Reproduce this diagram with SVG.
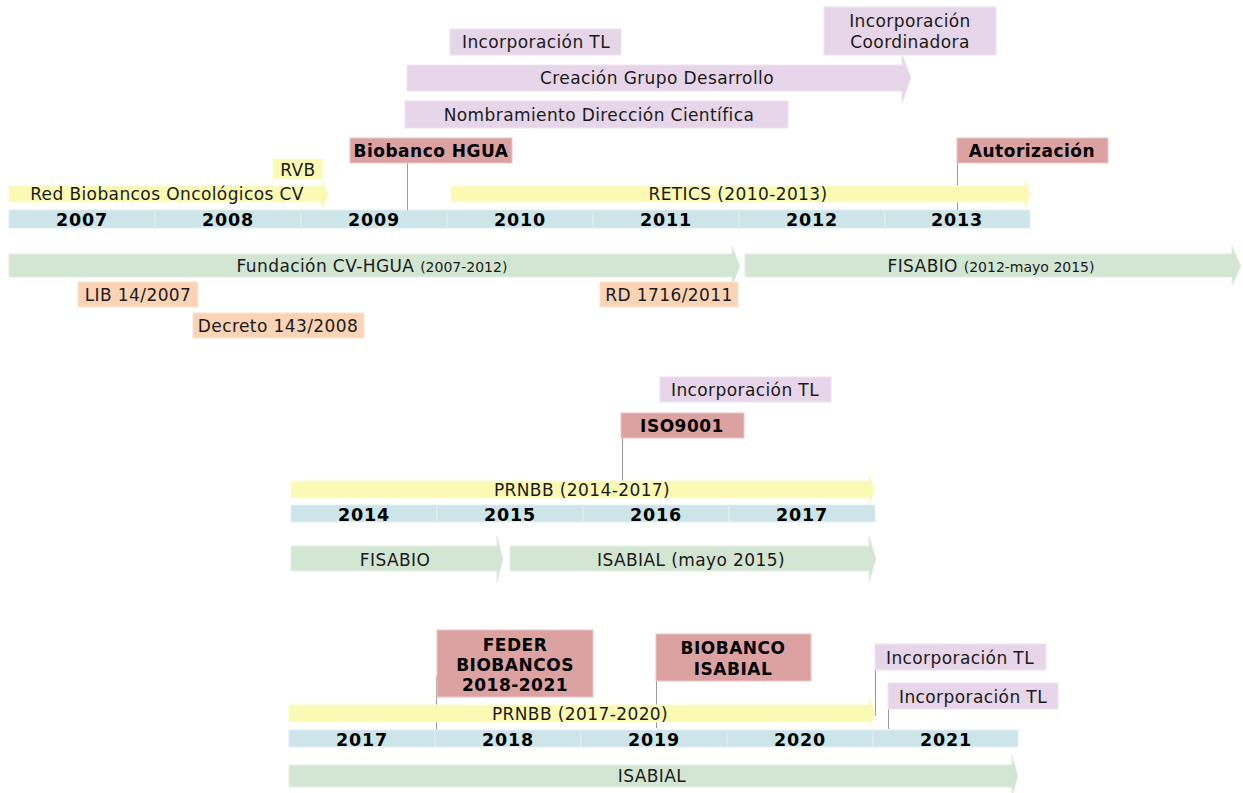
<svg xmlns="http://www.w3.org/2000/svg" width="1243" height="793" viewBox="0 0 1243 793">
<style>
text{font-family:"DejaVu Sans","Verdana",sans-serif;fill:#1a1a1a;text-anchor:middle}
.t{font-size:17px;letter-spacing:0.4px}
.s{font-size:14px;letter-spacing:0}
.b{font-size:17px;font-weight:bold;letter-spacing:0.5px;fill:#000}
.y{font-size:17.5px;font-weight:bold;letter-spacing:0.8px;fill:#000}
.pur{fill:#e7d6e9;stroke:#efe4f0;stroke-width:1}
.red{fill:#dca2a2;stroke:#ecc4c4;stroke-width:1}
.yel{fill:#fafab4;stroke:#fcfcd2;stroke-width:1}
.ora{fill:#fbd3b5;stroke:#fde4d0;stroke-width:1}
.grn{fill:#d3e6d3;stroke:#e4efe4;stroke-width:1}
.cell{fill:#cde5e8;stroke:#dff0f2;stroke-width:1}
.con{stroke:#9a9a9a;stroke-width:1;fill:none}
</style>
<rect width="1243" height="793" fill="#fff"/>

<!-- ===== Section 1 ===== -->
<g id="years-2007-2013">
<rect class="cell" x="9" y="210" width="146" height="18"/>
<rect class="cell" x="155" y="210" width="146" height="18"/>
<rect class="cell" x="301" y="210" width="146" height="18"/>
<rect class="cell" x="447" y="210" width="146" height="18"/>
<rect class="cell" x="593" y="210" width="146" height="18"/>
<rect class="cell" x="739" y="210" width="146" height="18"/>
<rect class="cell" x="885" y="210" width="145" height="18"/>
<text class="y" x="82" y="226">2007</text>
<text class="y" x="228" y="226">2008</text>
<text class="y" x="374" y="226">2009</text>
<text class="y" x="520" y="226">2010</text>
<text class="y" x="666" y="226">2011</text>
<text class="y" x="812" y="226">2012</text>
<text class="y" x="957" y="226">2013</text>
</g>

<g id="connectors">
<line class="con" x1="407.5" y1="163" x2="407.5" y2="210"/>
<line class="con" x1="957.5" y1="155" x2="957.5" y2="210"/>
<line class="con" x1="622.5" y1="438" x2="622.5" y2="481"/>
<line class="con" x1="436.5" y1="676" x2="436.5" y2="730"/>
<line class="con" x1="656.5" y1="676" x2="656.5" y2="728"/>
<line class="con" x1="875.5" y1="660" x2="875.5" y2="716"/>
<line class="con" x1="888.5" y1="700" x2="888.5" y2="729"/>
</g>

<g id="red-biobancos">
<path class="yel" d="M9,186 H322 V180 L328,194 L322,210 V202 H9 Z"/>
<text class="t" x="167" y="200">Red Biobancos Oncológicos CV</text>
</g>
<g id="rvb">
<rect class="yel" x="273" y="159" width="50" height="20"/>
<text class="t" x="298" y="176">RVB</text>
</g>
<g id="biobanco-hgua">
<rect class="red" x="350" y="138" width="162" height="25"/>
<text class="b" x="431" y="157">Biobanco HGUA</text>
</g>
<g id="retics">
<path class="yel" d="M451,186 H1025 V178 L1030,194 L1025,210 V202 H451 Z"/>
<text class="t" x="738" y="200">RETICS (2010-2013)</text>
</g>
<g id="autorizacion">
<rect class="red" x="957" y="138" width="151" height="25"/>
<text class="b" x="1032" y="157">Autorización</text>
</g>
<g id="incorporacion-tl-1">
<rect class="pur" x="450" y="29" width="171" height="26"/>
<text class="t" x="536" y="48">Incorporación TL</text>
</g>
<g id="creacion-grupo">
<path class="pur" d="M407,65 H902 V54 L911,78 L902,103 V91 H407 Z"/>
<text class="t" x="657" y="84">Creación Grupo Desarrollo</text>
</g>
<g id="nombramiento">
<rect class="pur" x="405" y="101" width="383" height="27"/>
<text class="t" x="599" y="121">Nombramiento Dirección Científica</text>
</g>
<g id="incorporacion-coordinadora">
<rect class="pur" x="824" y="7" width="172" height="48"/>
<text class="t" x="910" y="27">Incorporación</text>
<text class="t" x="910" y="48">Coordinadora</text>
</g>
<g id="fundacion">
<path class="grn" d="M9,254 H732 V246 L740,266 L732,286 V277 H9 Z"/>
<text class="t" x="372" y="272">Fundación CV-HGUA <tspan class="s">(2007-2012)</tspan></text>
</g>
<g id="fisabio-1">
<path class="grn" d="M745,254 H1232 V246 L1241,266 L1232,286 V277 H745 Z"/>
<text class="t" x="991" y="272">FISABIO <tspan class="s">(2012-mayo 2015)</tspan></text>
</g>
<g id="lib">
<rect class="ora" x="78" y="282" width="120" height="25"/>
<text class="t" x="138" y="301">LIB 14/2007</text>
</g>
<g id="decreto">
<rect class="ora" x="193" y="313" width="171" height="25"/>
<text class="t" x="278" y="332">Decreto 143/2008</text>
</g>
<g id="rd">
<rect class="ora" x="600" y="282" width="138" height="25"/>
<text class="t" x="669" y="301">RD 1716/2011</text>
</g>

<!-- ===== Section 2 ===== -->
<g id="years-2014-2017">
<rect class="cell" x="291" y="505" width="146" height="17"/>
<rect class="cell" x="437" y="505" width="146" height="17"/>
<rect class="cell" x="583" y="505" width="146" height="17"/>
<rect class="cell" x="729" y="505" width="146" height="17"/>
<text class="y" x="364" y="521">2014</text>
<text class="y" x="510" y="521">2015</text>
<text class="y" x="656" y="521">2016</text>
<text class="y" x="802" y="521">2017</text>
</g>
<g id="incorporacion-tl-2">
<rect class="pur" x="660" y="377" width="171" height="25"/>
<text class="t" x="745" y="396">Incorporación TL</text>
</g>
<g id="iso9001">
<rect class="red" x="621" y="413" width="123" height="25"/>
<text class="b" x="682" y="432">ISO9001</text>
</g>
<g id="prnbb-2014">
<path class="yel" d="M291,481 H869 V474 L875,490 L869,505 V498 H291 Z"/>
<text class="t" x="582" y="496">PRNBB (2014-2017)</text>
</g>
<g id="fisabio-2">
<path class="grn" d="M291,546 H497 V536 L503,559 L497,582 V571 H291 Z"/>
<text class="t" x="395" y="566">FISABIO</text>
</g>
<g id="isabial-2015">
<path class="grn" d="M510,546 H869 V536 L876,559 L869,582 V571 H510 Z"/>
<text class="t" x="691" y="566">ISABIAL (mayo 2015)</text>
</g>

<!-- ===== Section 3 ===== -->
<g id="years-2017-2021">
<rect class="cell" x="289" y="730" width="146" height="17"/>
<rect class="cell" x="435" y="730" width="146" height="17"/>
<rect class="cell" x="581" y="730" width="146" height="17"/>
<rect class="cell" x="727" y="730" width="146" height="17"/>
<rect class="cell" x="873" y="730" width="145" height="17"/>
<text class="y" x="362" y="746">2017</text>
<text class="y" x="508" y="746">2018</text>
<text class="y" x="654" y="746">2019</text>
<text class="y" x="800" y="746">2020</text>
<text class="y" x="946" y="746">2021</text>
</g>
<g id="feder">
<rect class="red" x="437" y="630" width="156" height="67"/>
<text class="b" x="515" y="651">FEDER</text>
<text class="b" x="515" y="671">BIOBANCOS</text>
<text class="b" x="515" y="691">2018-2021</text>
</g>
<g id="biobanco-isabial">
<rect class="red" x="656" y="634" width="155" height="47"/>
<text class="b" x="733" y="654">BIOBANCO</text>
<text class="b" x="733" y="675">ISABIAL</text>
</g>
<g id="prnbb-2017">
<path class="yel" d="M289,705 H869 V697 L875,713 L869,729 V722 H289 Z"/>
<text class="t" x="580" y="720">PRNBB (2017-2020)</text>
</g>
<g id="incorporacion-tl-3">
<rect class="pur" x="875" y="644" width="171" height="26"/>
<text class="t" x="960" y="664">Incorporación TL</text>
</g>
<g id="incorporacion-tl-4">
<rect class="pur" x="888" y="683" width="170" height="26"/>
<text class="t" x="973" y="703">Incorporación TL</text>
</g>
<g id="isabial">
<path class="grn" d="M289,765 H1012 V755 L1018,776 L1012,797 V787 H289 Z"/>
<text class="t" x="652" y="782">ISABIAL</text>
</g>
</svg>
